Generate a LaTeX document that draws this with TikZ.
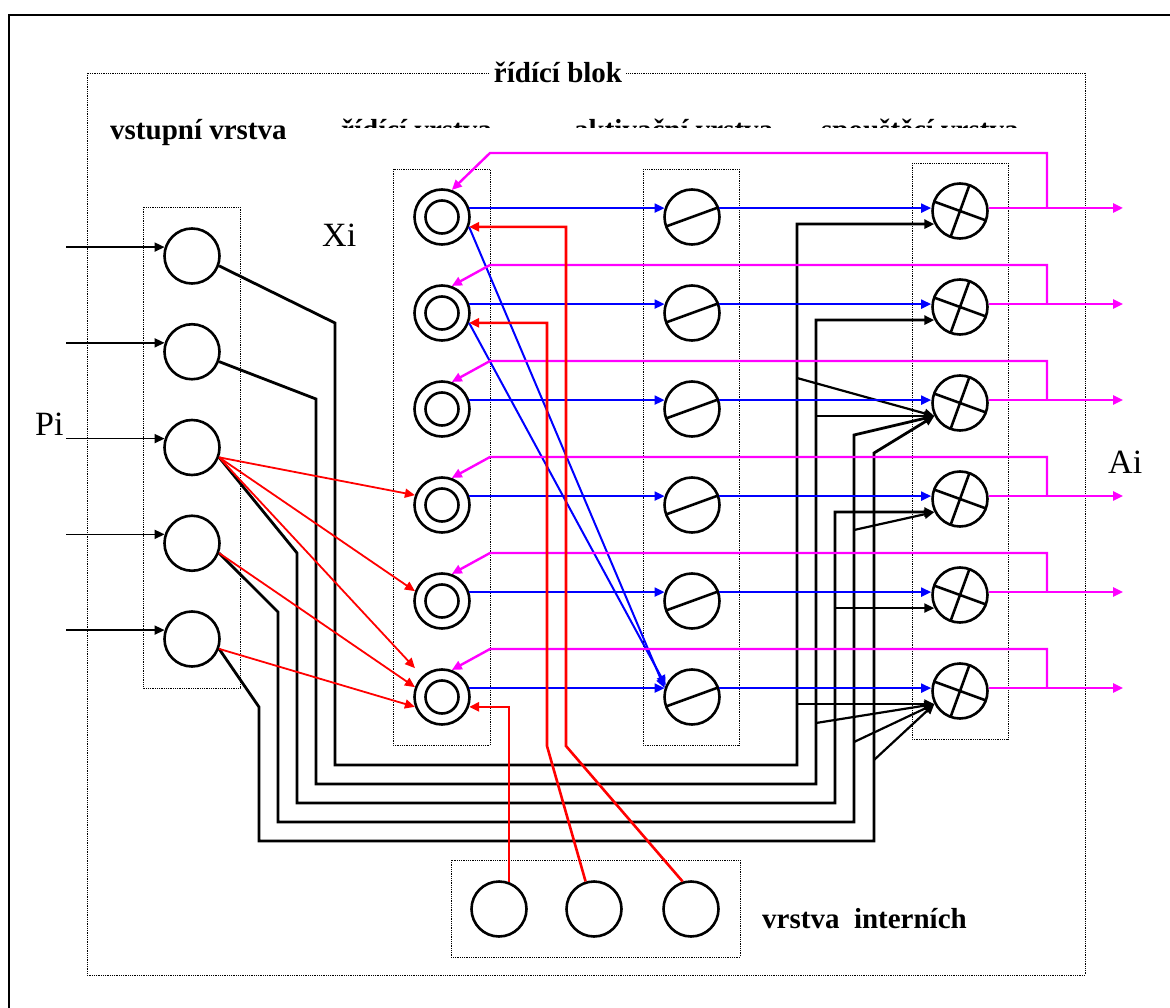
\documentclass[tikz,border=0pt]{standalone}
\usepackage{fontspec}
\setmainfont{Liberation Serif}
\usetikzlibrary{arrows.meta}
\definecolor{SigBlue}{HTML}{0000FF}
\definecolor{FbPink}{HTML}{FF00FF}
\definecolor{IntRed}{HTML}{FF0000}
\tikzset{
  neuron/.style={circle,draw,line width=2.6pt,minimum size=55pt,inner sep=0pt,fill=white},
  ctrlcell/.style={neuron,path picture={\draw[line width=2.6pt] (path picture bounding box.center) circle[radius=16.5pt];}},
  actcell/.style={neuron,path picture={\draw[line width=2.6pt] (path picture bounding box.center) ++(200:32pt) -- ++(20:64pt);}},
  trigcell/.style={neuron,path picture={\draw[line width=2.6pt] (path picture bounding box.center) ++(160:32pt) -- ++(340:64pt) (path picture bounding box.center) ++(70:32pt) -- ++(250:64pt);}},
  layerbox/.style={densely dotted,line width=0.8pt},
  lbl/.style={font=\bfseries\fontsize{29}{32}\selectfont,inner sep=0pt},
  sym/.style={font=\fontsize{34}{36}\selectfont,inner sep=0pt},
  bus/.style={line width=2.8pt},
  branch/.style={line width=2.2pt},
  sig/.style={SigBlue,line width=2pt},
  fbk/.style={FbPink,line width=2.4pt},
  inr/.style={IntRed,line width=1.8pt},
  intr/.style={IntRed,line width=2.6pt}
}
\begin{document}
\begin{tikzpicture}[x=1pt,y=-1pt,>={Triangle[length=10pt,width=9pt]}]
\useasboundingbox (0,0) rectangle (1170,1008);
\draw[line width=2.2pt] (9,1012) -- (9,15) -- (1174,15);
\draw[layerbox] (87,73) rectangle (1085,975);
\draw[layerbox] (143,207) rectangle (240,688);
\draw[layerbox] (393,169) rectangle (490,745);
\draw[layerbox] (643,169) rectangle (739,745);
\draw[layerbox] (912,163) rectangle (1008,739);
\draw[layerbox] (451,860) rectangle (740,957);
\node[lbl,fill=white,inner xsep=4pt,anchor=base] (blok) at (558,83) {řídící blok};
\node[lbl,anchor=base west] (vst) at (110,140) {vstupní vrstva};
\begin{scope}
\clip (320,100) rectangle (1030,127.5);
\node[lbl,anchor=base west] (rv) at (341,140) {řídící vrstva};
\node[lbl,anchor=base west] (av) at (574,140) {aktivační vrstva};
\node[lbl,anchor=base west] (sv) at (821,140) {spouštěcí vrstva};
\end{scope}
\node[lbl,anchor=base west] (intl) at (762,928) {vrstva~~interních};
\node[sym,anchor=base west] (xi) at (322,247) {Xi};
\node[sym,anchor=base west] (pi) at (35,435) {Pi};
\node[sym,anchor=base west] (ai) at (1108,473) {Ai};

\foreach \i in {1,...,5} \node[neuron] (p\i) at (192,{160.25+95.75*\i}) {};
\foreach \i in {1,...,6} {
  \node[ctrlcell] (x\i) at (442,{121+96*\i}) {};
  \node[actcell] (a\i) at (692,{121+96*\i}) {};
  \node[trigcell] (s\i) at (960,{115+96*\i}) {};
}
\node[neuron] (i1) at (499,909) {};
\node[neuron] (i2) at (594,909) {};
\node[neuron] (i3) at (691,909) {};
\coordinate (inx) at (66,0);
\coordinate (outx) at (1123,0);
\coordinate (fbx) at (1047,0);
\coordinate (colA) at (797,0);
\coordinate (colB) at (816,0);
\coordinate (colC) at (835,0);

\foreach \i in {1,...,5} \draw[line width=1.6pt,->] (p\i.162 -| inx) -- (p\i.162);

\draw[bus,->] (p1.-20) -- (335,323) -- (335,765) -- (797,765) |- (s1.207);
\draw[bus,->] (p2.-20) -- (316,399) -- (316,784) -- (816,784) |- (s2.207);
\draw[bus,->] (p3.-20) -- (297,553) -- (297,803) -- (835,803) |- (s4.207);
\draw[bus,->] (p4.-20) -- (278,612) -- (278,822) -- (854,822) -- (854,435) -- (s3.207);
\draw[bus,->] (p5.-20) -- (259,707) -- (259,841) -- (874,841) -- (874,453) -- (s3.207);
\draw[branch,->] (797,378) -- (s3.207);
\draw[branch,->] (s6.207 -| colA) -- (s6.207);
\draw[branch,->] (s3.207 -| colB) -- (s3.207);
\draw[branch,->] (816,723) -- (s6.207);
\draw[branch,->] (s5.207 -| colC) -- (s5.207);
\draw[branch,->] (854,530) -- (s4.207);
\draw[branch,->] (854,742) -- (s6.207);
\draw[branch,->] (874,760) -- (s6.207);

\foreach \i in {1,...,6} {
  \draw[sig,->] (x\i.18) -- (a\i.162);
  \draw[sig,->] (a\i.18) -- (a\i.18 -| s\i.west);
}
\draw[sig,->] (x1.-20) -- (a6.162);
\draw[sig,->] (x2.-20) -- (a6.156);

\foreach \i/\lev in {1/153,2/265,3/361,4/457,5/553,6/649} {
  \draw[fbk,->] (s\i.6) -- (s\i.6 -| outx);
  \draw[fbk,->] (s\i.6 -| fbx) |- (490,\lev) -- (x\i.70);
}

\draw[inr,->] (p3.-20) -- (x4.160);
\draw[inr,->] (p3.-20) -- (x5.160);
\draw[inr,->] (p3.-20) -- ([yshift=19pt]x6.160);
\draw[inr,->] (p4.-20) -- (x6.160);
\draw[inr,->] (p5.-20) -- (x6.200);

\draw[intr,->] (i1.70) |- (x6.-20);
\draw[intr,->] (i2.107) -- (547,746) |- (x2.-20);
\draw[intr,->] (i3.107) -- (566,746) |- (x1.-20);
\end{tikzpicture}
\end{document}
